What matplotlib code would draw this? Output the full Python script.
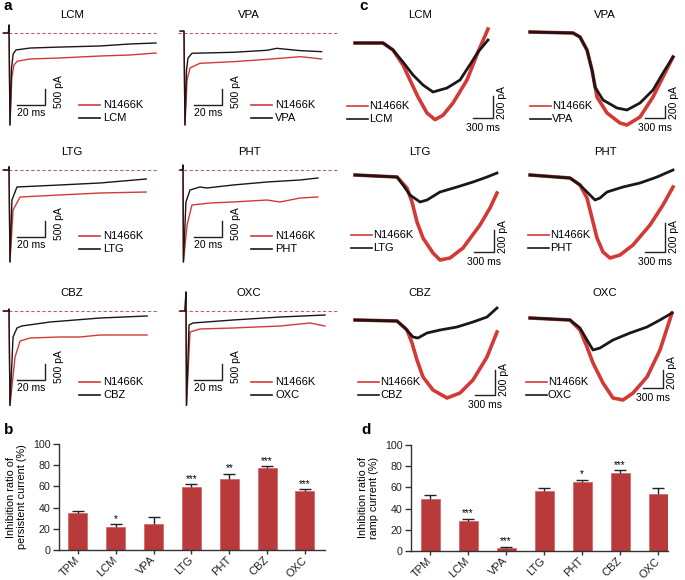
import matplotlib
matplotlib.use('Agg')
import matplotlib.pyplot as plt
import numpy as np

plt.rcParams['font.family'] = ['Liberation Sans', 'DejaVu Sans']

W, H = 685, 580
RED = '#d33a36'
BLK = '#1c1616'
BAR = '#b83a3a'

# ---------------- panel a: persistent current traces (ms, pA) ----------------
a_lcm_t_mut = [1, 4.6, 5.0, 5.7, 7.0, 8.5, 11.0, 20, 41, 70, 91, 110]
a_lcm_i_mut = [0, 0, 250, -2875, -1400, -1000, -880, -812, -781, -719, -688, -625]
a_lcm_t_drug = [1, 4.6, 5.0, 5.7, 6.8, 8.0, 10.0, 20, 41, 70, 91, 110]
a_lcm_i_drug = [0, 0, 250, -2875, -1100, -650, -530, -470, -440, -406, -344, -312]

a_vpa_t_mut = [3, 5.7, 6.4, 7.9, 10, 17, 41, 65, 89, 104]
a_vpa_i_mut = [60, 60, -2875, -1469, -1094, -947, -896, -823, -740, -812]
a_vpa_t_drug = [3, 5.7, 6.4, 7.5, 8.6, 11.4, 41, 65, 72, 89, 104]
a_vpa_i_drug = [60, 60, -2875, -1156, -781, -634, -603, -540, -479, -552, -583]

a_ltg_t_mut = [1, 4.6, 5.0, 5.7, 7.9, 12.9, 41, 70, 103]
a_ltg_i_mut = [0, 0, 100, -2875, -1250, -844, -781, -719, -688]
a_ltg_t_drug = [1, 4.6, 5.0, 5.7, 7.1, 10.7, 41, 70, 103]
a_ltg_i_drug = [0, 0, 100, -2875, -938, -531, -469, -406, -281]

a_pht_t_mut = [3, 4.6, 5.0, 5.3, 7.9, 11.4, 24.3, 40.7, 65, 74.3, 88.6, 101.4]
a_pht_i_mut = [0, 0, 156, -2875, -1719, -1094, -1031, -1000, -938, -1000, -875, -844]
a_pht_t_drug = [3, 4.6, 5.0, 5.3, 7.1, 10, 17.1, 22.1, 40.7, 65, 88.6, 101.4]
a_pht_i_drug = [0, 0, 156, -2875, -1000, -625, -531, -562, -469, -375, -312, -250]

a_cbz_t_mut = [1, 4.6, 5.0, 5.7, 9.3, 12.9, 20, 41.4, 55.7, 70, 103.6]
a_cbz_i_mut = [0, 0, 60, -2950, -1438, -938, -844, -812, -812, -750, -750]
a_cbz_t_drug = [1, 4.6, 5.0, 5.7, 7.9, 10.7, 14, 34.3, 70, 103.6]
a_cbz_i_drug = [0, 0, 60, -2950, -812, -531, -469, -344, -219, -156]

a_oxc_t_mut = [3, 6.4, 7.1, 7.5, 10, 17.1, 40.7, 74.3, 95.7, 106.4]
a_oxc_i_mut = [0, 0, 594, -2950, -656, -562, -531, -469, -375, -469]
a_oxc_t_drug = [3, 6.4, 7.1, 7.5, 9.3, 12.1, 40.7, 74.3, 106.4]
a_oxc_i_drug = [0, 0, 594, -2950, -438, -375, -281, -188, -125]

# ---------------- panel c: ramp current traces (ms, pA) ----------------
c_lcm_t_mut = [0, 420, 570, 720, 825, 945, 1080, 1200, 1320, 1470, 1680, 1845, 1995]
c_lcm_i_mut = [0, 0, -63, -198, -333, -486, -630, -690, -650, -540, -333, -81, 126]
c_lcm_t_drug = [0, 420, 570, 720, 870, 1020, 1170, 1380, 1575, 1770, 1845, 1995]
c_lcm_i_drug = [0, 0, -63, -171, -288, -378, -441, -405, -333, -153, -81, 27]

c_vpa_t_mut = [0, 645, 750, 855, 930, 1005, 1155, 1350, 1455, 1650, 1845, 2025, 2145]
c_vpa_i_mut = [0, -17, -85, -306, -646, -1105, -1377, -1547, -1581, -1445, -1105, -697, -425]
c_vpa_t_drug = [0, 645, 750, 855, 930, 975, 1095, 1305, 1455, 1650, 1845, 1995, 2145]
c_vpa_i_drug = [0, -17, -85, -306, -646, -935, -1156, -1292, -1326, -1207, -986, -697, -425]

c_ltg_t_mut = [0, 630, 780, 855, 930, 1020, 1170, 1275, 1425, 1620, 1875, 2025, 2130]
c_ltg_i_mut = [0, -18, -117, -243, -423, -567, -702, -765, -747, -657, -450, -297, -162]
c_ltg_t_drug = [0, 630, 720, 825, 975, 1080, 1275, 1530, 1770, 1980, 2130]
c_ltg_i_drug = [0, -18, -90, -180, -243, -225, -153, -108, -63, -18, 18]

c_pht_t_mut = [0, 600, 750, 855, 930, 1005, 1095, 1200, 1350, 1545, 1800, 1995, 2145]
c_pht_i_mut = [0, -21, -70, -161, -301, -441, -539, -581, -560, -490, -350, -210, -84]
c_pht_t_drug = [0, 600, 750, 870, 975, 1050, 1155, 1395, 1650, 1905, 2145]
c_pht_i_drug = [0, -21, -70, -126, -175, -161, -119, -84, -56, -14, 35]

c_cbz_t_mut = [0, 630, 780, 855, 930, 1020, 1170, 1380, 1575, 1770, 1980, 2130]
c_cbz_i_mut = [0, -8, -80, -184, -320, -456, -560, -624, -584, -480, -296, -96]
c_cbz_t_drug = [0, 630, 750, 870, 945, 1080, 1275, 1530, 1770, 1980, 2130]
c_cbz_i_drug = [0, -8, -64, -136, -144, -104, -80, -56, -16, 24, 96]

c_oxc_t_mut = [0, 600, 750, 855, 945, 1095, 1245, 1395, 1545, 1755, 1950, 2130]
c_oxc_i_mut = [0, -22, -132, -319, -495, -715, -880, -902, -825, -649, -352, 55]
c_oxc_t_drug = [0, 600, 750, 855, 945, 1050, 1245, 1500, 1755, 1950, 2130]
c_oxc_i_drug = [0, -22, -110, -242, -352, -330, -242, -165, -99, -22, 55]

# ---------------- panels b, d: bar data ----------------
drugs = ['TPM', 'LCM', 'VPA', 'LTG', 'PHT', 'CBZ', 'OXC']
b_mean = [34.9, 21.4, 24.5, 59.7, 67.0, 77.7, 55.3]
b_sem = [1.6, 2.8, 6.3, 2.2, 4.7, 1.2, 1.9]
b_sig = ['', '*', '', '***', '**', '***', '***']
d_mean = [49.5, 28.4, 2.8, 56.8, 64.7, 73.2, 53.6]
d_sem = [3.5, 2.2, 1.0, 2.2, 2.5, 2.8, 6.3]
d_sig = ['', '***', '***', '', '*', '***', '']

fig = plt.figure(figsize=(W / 100, H / 100), dpi=100)


def ftext(px, py, s, **kw):
    return fig.text(px / W, 1 - py / H, s, **kw)


def full_ax(x0, y0, sx, sy):
    ax = fig.add_axes([0, 0, 1, 1], facecolor='none')
    ax.set_xlim(-x0 / sx, (W - x0) / sx)
    ax.set_ylim((y0 - H) / sy, y0 / sy)
    ax.axis('off')
    return ax


def to_data(x0, y0, sx, sy, px, py):
    return (px - x0) / sx, (y0 - py) / sy


# ---------- panel a ----------
A_SX, A_SY = 1.4, 0.032
a_list = [
    ('LCM', a_lcm_t_mut, a_lcm_i_mut, a_lcm_t_drug, a_lcm_i_drug),
    ('VPA', a_vpa_t_mut, a_vpa_i_mut, a_vpa_t_drug, a_vpa_i_drug),
    ('LTG', a_ltg_t_mut, a_ltg_i_mut, a_ltg_t_drug, a_ltg_i_drug),
    ('PHT', a_pht_t_mut, a_pht_i_mut, a_pht_t_drug, a_pht_i_drug),
    ('CBZ', a_cbz_t_mut, a_cbz_i_mut, a_cbz_t_drug, a_cbz_i_drug),
    ('OXC', a_oxc_t_mut, a_oxc_i_mut, a_oxc_t_drug, a_oxc_i_drug),
]
a_x0 = [2, 176]
a_y0 = [33, 170, 311]
a_dash = [(3, 157), (178, 338)]
a_bar_x = [45, 222]
a_bar_y = [105, 237, 380]
a_leg_x = [79, 251]
a_leg_y = [105, 236, 382]
a_title_x = [72, 249]
title_y = [15, 152, 293]

for k, (name, tm, im, td, idr) in enumerate(a_list):
    r, c = divmod(k, 2)
    x0, y0 = a_x0[c], a_y0[r]
    ax = full_ax(x0, y0, A_SX, A_SY)
    t1, _ = to_data(x0, y0, A_SX, A_SY, a_dash[c][0], y0)
    t2, _ = to_data(x0, y0, A_SX, A_SY, a_dash[c][1], y0)
    ax.plot([t1, t2], [0, 0], ls=(0, (3, 2)), color='#a86a6a', lw=0.8)
    ax.plot(tm, im, color=RED, lw=1.0)
    ax.plot(td, idr, color=BLK, lw=1.0)
    tc, ic = to_data(x0, y0, A_SX, A_SY, a_bar_x[c], a_bar_y[r])
    ax.plot([tc - 20, tc, tc], [ic, ic, ic + 500], color='#222', lw=1.0)
    ftext(a_bar_x[c] - 14, a_bar_y[r] + 8, '20 ms', ha='center', va='center', fontsize=7.5)
    ftext(a_bar_x[c] + 9, a_bar_y[r] + 3, '500 pA', ha='left', va='bottom', rotation=90, fontsize=7.5)
    for j, (col, lab) in enumerate([(RED, 'N1466K'), (BLK, name)]):
        ly = a_leg_y[r] + 13 * j
        la, yy = to_data(x0, y0, A_SX, A_SY, a_leg_x[c], ly)
        lb, _ = to_data(x0, y0, A_SX, A_SY, a_leg_x[c] + 21, ly)
        ax.plot([la, lb], [yy, yy], color=col, lw=1.2)
        ftext(a_leg_x[c] + 24, ly, lab, ha='left', va='center', fontsize=8)
    ftext(a_title_x[c], title_y[r], name, ha='center', va='center', fontsize=8.2)

# ---------- panel c ----------
C_SX = 1 / 15.0
c_list = [
    ('LCM', c_lcm_t_mut, c_lcm_i_mut, c_lcm_t_drug, c_lcm_i_drug),
    ('VPA', c_vpa_t_mut, c_vpa_i_mut, c_vpa_t_drug, c_vpa_i_drug),
    ('LTG', c_ltg_t_mut, c_ltg_i_mut, c_ltg_t_drug, c_ltg_i_drug),
    ('PHT', c_pht_t_mut, c_pht_i_mut, c_pht_t_drug, c_pht_i_drug),
    ('CBZ', c_cbz_t_mut, c_cbz_i_mut, c_cbz_t_drug, c_cbz_i_drug),
    ('OXC', c_oxc_t_mut, c_oxc_i_mut, c_oxc_t_drug, c_oxc_i_drug),
]
c_x0 = [355, 530]
c_y0 = [(43, 32), (175, 175), (320, 318)]
c_pa_per_px = [(9, 17), (9, 7), (8, 11)]
c_corner = [(493, 118), (665, 118), (494, 252), (665, 252), (495, 395), (663, 388)]
c_leg = [(347, 106), (530, 106), (351, 235), (528, 235), (358, 382), (526, 382)]
c_title_x = [420, 605]

for k, (name, tm, im, td, idr) in enumerate(c_list):
    r, c = divmod(k, 2)
    x0, y0 = c_x0[c], c_y0[r][c]
    sy = 1.0 / c_pa_per_px[r][c]
    ax = full_ax(x0, y0, C_SX, sy)
    ax.plot(tm, im, color=RED, lw=2.6, solid_joinstyle='round')
    ax.plot(td, idr, color=BLK, lw=2.0, solid_joinstyle='round')
    cx, cy = c_corner[k]
    tc, ic = to_data(x0, y0, C_SX, sy, cx, cy)
    ax.plot([tc - 300, tc, tc], [ic, ic, ic + 200], color='#222', lw=1.0)
    ftext(cx - 10, cy + 10, '300 ms', ha='center', va='center', fontsize=7.5)
    ftext(cx + 4, cy + 1, '200 pA', ha='left', va='bottom', rotation=90, fontsize=7.5)
    lx, ly0 = c_leg[k]
    for j, (col, lab) in enumerate([(RED, 'N1466K'), (BLK, name)]):
        ly = ly0 + 13 * j
        la, yy = to_data(x0, y0, C_SX, sy, lx, ly)
        lb, _ = to_data(x0, y0, C_SX, sy, lx + 21, ly)
        ax.plot([la, lb], [yy, yy], color=col, lw=1.2)
        ftext(lx + 22, ly, lab, ha='left', va='center', fontsize=8)
    ftext(c_title_x[c], title_y[r], name, ha='center', va='center', fontsize=8.2)

# ---------- bar panels ----------
def bar_panel(rect, xr, means, sems, sigs, ylabel):
    ax = fig.add_axes(rect)
    x = np.arange(len(drugs))
    means = np.array(means)
    sems = np.array(sems)
    ax.bar(x, means, width=0.5, color=BAR, edgecolor='#d06060', linewidth=0.5, zorder=2)
    ax.vlines(x, means, means + sems, color='#222', lw=1.0, zorder=3)
    ax.hlines(means + sems, x - 0.16, x + 0.16, color='#222', lw=1.0, zorder=3)
    for xi, m, s, g in zip(x, means, sems, sigs):
        if g:
            ax.text(xi, m + s + 0.5, g, ha='center', va='bottom', fontsize=7.2)
    ax.set_xlim(-0.5, xr)
    ax.set_ylim(0, 100)
    ax.set_yticks(range(0, 101, 20))
    ax.set_xticks(x)
    ax.set_xticklabels(drugs, rotation=45, ha='right', va='center',
                       rotation_mode='anchor', fontsize=8.0)
    for s in ['top', 'right']:
        ax.spines[s].set_visible(False)
    for s in ['left', 'bottom']:
        ax.spines[s].set_linewidth(1.0)
        ax.spines[s].set_color('#333')
    ax.tick_params(direction='out', length=4, width=1.0, colors='#333',
                   labelcolor='#222')
    ax.tick_params(axis='y', labelsize=7.7, pad=2)
    ax.tick_params(axis='x', length=3, pad=3)
    ax.set_ylabel(ylabel, fontsize=7.8, linespacing=1.15, labelpad=4)
    return ax

bar_panel([59 / W, (H - 550) / H, (325 - 59) / W, (550 - 444) / H], 6.53,
          b_mean, b_sem, b_sig, 'Inhibition ratio of\npersistent current (%)')
bar_panel([411 / W, (H - 551) / H, (668 - 411) / W, (551 - 445) / H], 6.26,
          d_mean, d_sem, d_sig, 'Inhibition ratio of\nramp current (%)')

# panel letters
for lab, px, py in [('a', 4, 6), ('c', 359, 6), ('b', 4, 430), ('d', 361, 430)]:
    ftext(px, py, lab, ha='left', va='center', fontsize=11, fontweight='bold')

fig.savefig('out.png', dpi=100)
